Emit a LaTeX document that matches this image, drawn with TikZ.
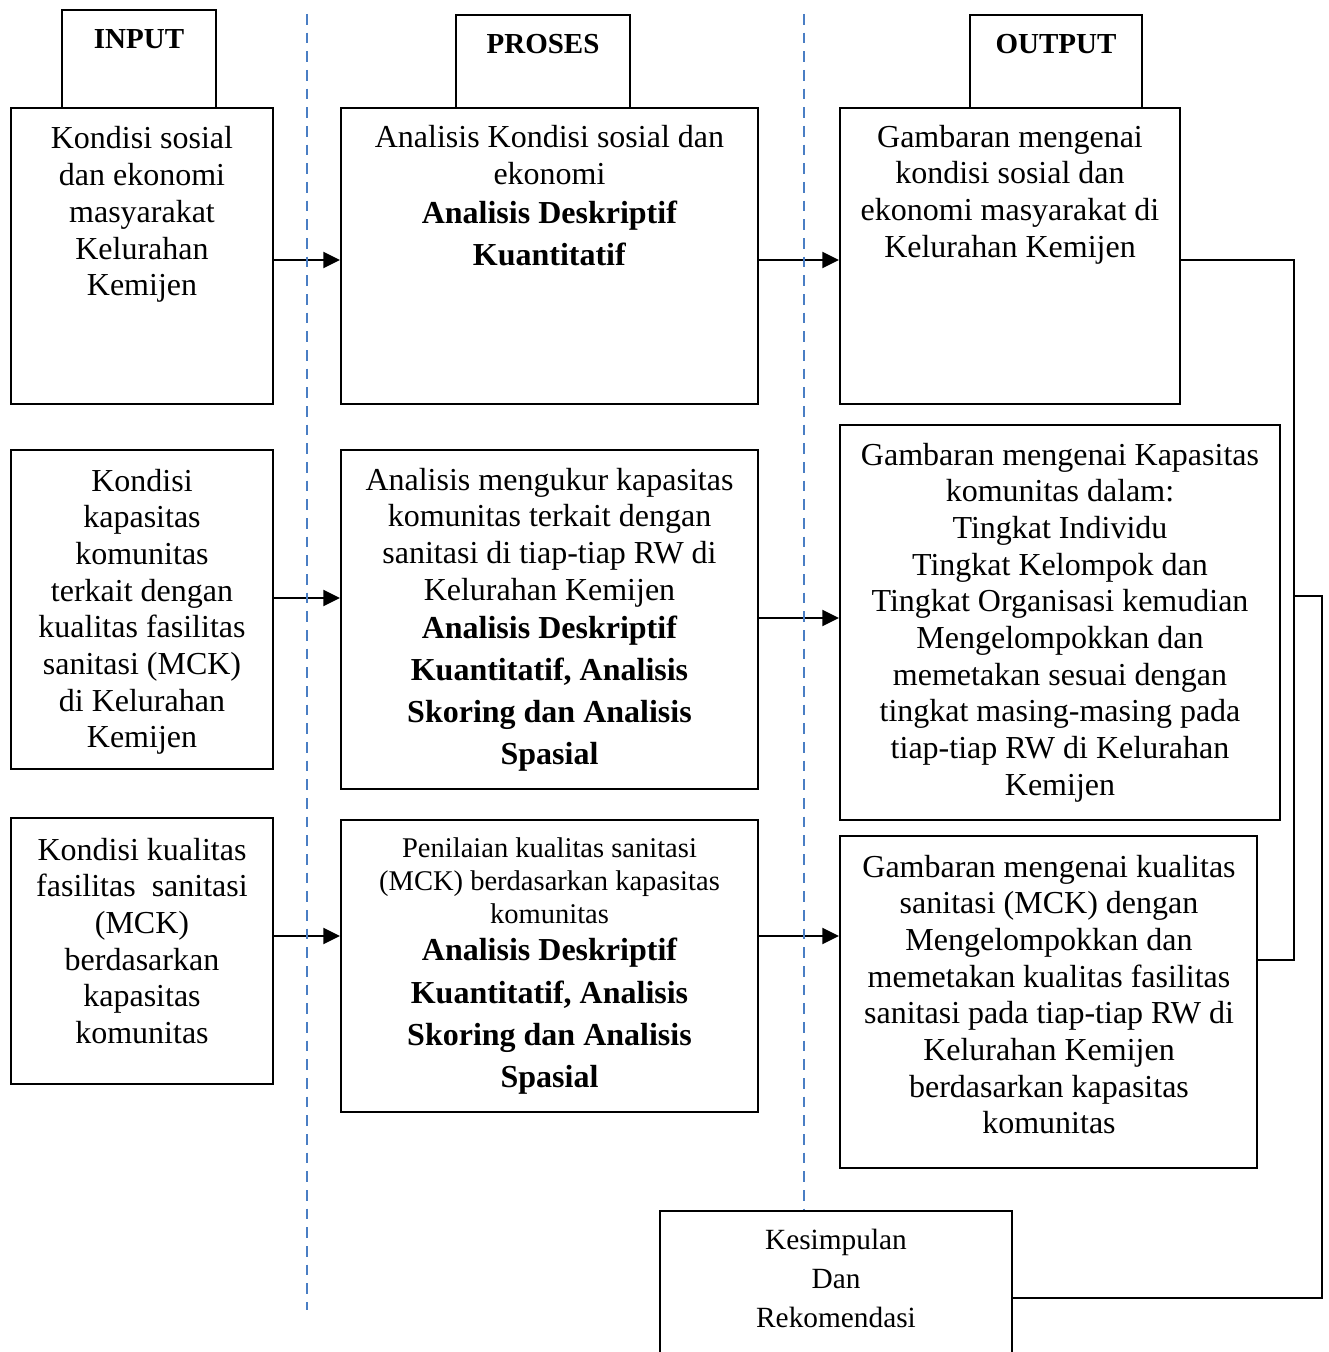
\documentclass[tikz,border=0pt]{standalone}
\usepackage{fontspec}
\setmainfont{Liberation Serif}
\usetikzlibrary{arrows.meta,fit}
\definecolor{dashblue}{RGB}{74,126,196}
\tikzset{
  bx/.style={draw=black, line width=1.5pt, inner sep=0pt, rectangle},
  txt/.style={anchor=base, inner sep=0pt, align=flush center, font=\fontsize{24}{27.5}\selectfont},
  hdr/.style={anchor=base, inner sep=0pt, font=\fontsize{21.75}{26}\selectfont\bfseries},
  arr/.style={line width=1.5pt, -{Triangle[length=12.5pt,width=12pt]}},
  con/.style={line width=1.5pt},
  sep/.style={draw=dashblue, line width=2pt, dash pattern=on 7.9pt off 6.1pt}
}
\begin{document}
\begin{tikzpicture}[x=0.75pt,y=-0.75pt]
\useasboundingbox (0,0) rectangle (1328,1352);
\clip (0,0) rectangle (1328,1352);

% header tabs
\node[bx, fit={(62,10) (216,108)}] (tin) {};
\node[bx, fit={(456,15) (630,108)}] (tpr) {};
\node[bx, fit={(970,15) (1142,108)}] (tout) {};
\node[hdr] (tint) at (139,49) {INPUT};
\node[hdr] (tprt) at (543,54) {PROSES};
\node[hdr] (toutt) at (1056,54) {OUTPUT};

% boxes
\node[bx, fit={(11,108) (273,404)}] (i1) {};
\node[bx, fit={(11,450) (273,769)}] (i2) {};
\node[bx, fit={(11,818) (273,1084)}] (i3) {};
\node[bx, fit={(341,108) (758,404)}] (p1) {};
\node[bx, fit={(341,450) (758,789)}] (p2) {};
\node[bx, fit={(341,820) (758,1112)}] (p3) {};
\node[bx, fit={(840,108) (1180,404)}] (o1) {};
\node[bx, fit={(840,425) (1280,820)}] (o2) {};
\node[bx, fit={(840,836) (1257,1168)}] (o3) {};
\node[bx, fit={(660,1211) (1012,1390)}] (kes) {};

% texts
\node[txt, text width=186pt] (i1t) at (142,149) {Kondisi sosial\\dan ekonomi\\masyarakat\\Kelurahan\\Kemijen};
\node[txt, text width=186pt] (i2t) at (142,491) {Kondisi\\kapasitas\\komunitas\\terkait dengan\\kualitas fasilitas\\sanitasi (MCK)\\di Kelurahan\\Kemijen};
\node[txt, text width=186pt] (i3t) at (142,860) {Kondisi kualitas\\fasilitas\ \ sanitasi\\(MCK)\\berdasarkan\\kapasitas\\komunitas};

\node[txt, text width=306pt] (p1t) at (549.5,148) {Analisis Kondisi sosial dan\\ekonomi\\[1.75pt]\textbf{Analisis Deskriptif}\\[4pt]\textbf{Kuantitatif}};
\node[txt, text width=306pt] (p2t) at (549.5,490) {Analisis mengukur kapasitas\\komunitas terkait dengan\\sanitasi di tiap-tiap RW di\\Kelurahan Kemijen\\[1pt]\textbf{Analisis Deskriptif}\\[4pt]\textbf{Kuantitatif, Analisis}\\[4pt]\textbf{Skoring dan Analisis}\\[4pt]\textbf{Spasial}};
\node[txt, text width=306pt, font=\fontsize{21.4}{24.75}\selectfont] (p3t) at (549.5,857) {Penilaian kualitas sanitasi\\(MCK) berdasarkan kapasitas\\komunitas\\[3pt]\fontsize{24}{24.75}\selectfont\bfseries Analisis Deskriptif\\[7.5pt]Kuantitatif, Analisis\\[6.75pt]Skoring dan Analisis\\[6.75pt]Spasial};

\node[txt, text width=250pt] (o1t) at (1010,147) {Gambaran mengenai\\kondisi sosial dan\\ekonomi masyarakat di\\Kelurahan Kemijen};
\node[txt, text width=325pt] (o2t) at (1060,465) {Gambaran mengenai Kapasitas\\komunitas dalam:\\Tingkat Individu\\Tingkat Kelompok dan\\Tingkat Organisasi kemudian\\Mengelompokkan dan\\memetakan sesuai dengan\\tingkat masing-masing pada\\tiap-tiap RW di Kelurahan\\Kemijen};
\node[txt, text width=308pt] (o3t) at (1049,877) {Gambaran mengenai kualitas\\sanitasi (MCK) dengan\\Mengelompokkan dan\\memetakan kualitas fasilitas\\sanitasi pada tiap-tiap RW di\\Kelurahan Kemijen\\berdasarkan kapasitas\\komunitas};

\node[txt, text width=258pt, font=\fontsize{22}{29.25}\selectfont] (kest) at (836,1249) {Kesimpulan\\Dan\\Rekomendasi};

% arrow levels
\coordinate (r1) at (0,260);
\coordinate (r2) at (0,598);
\coordinate (r2b) at (0,618);
\coordinate (r3) at (0,936);

\draw[arr] (i1.east |- r1) -- (p1.west |- r1);
\draw[arr] (p1.east |- r1) -- (o1.west |- r1);
\draw[arr] (i2.east |- r2) -- (p2.west |- r2);
\draw[arr] (p2.east |- r2b) -- (o2.west |- r2b);
\draw[arr] (i3.east |- r3) -- (p3.west |- r3);
\draw[arr] (p3.east |- r3) -- (o3.west |- r3);

% right-hand connectors
\coordinate (j1) at (1294,960);
\coordinate (j2) at (1294,596);
\coordinate (j3) at (1322,1298);
\draw[con] (o1.east |- r1) -| (j1) -- (o3.east |- j1);
\draw[con] (j2) -| (j3) -- (kes.east |- j3);

% dashed separators
\coordinate (d1t) at (307,14);
\coordinate (d1b) at (307,1310);
\coordinate (d2t) at (804,14);
\draw[sep] (d1t) -- (d1b);
\draw[sep] (d2t) -- (d2t |- kes.north);
\end{tikzpicture}
\end{document}
